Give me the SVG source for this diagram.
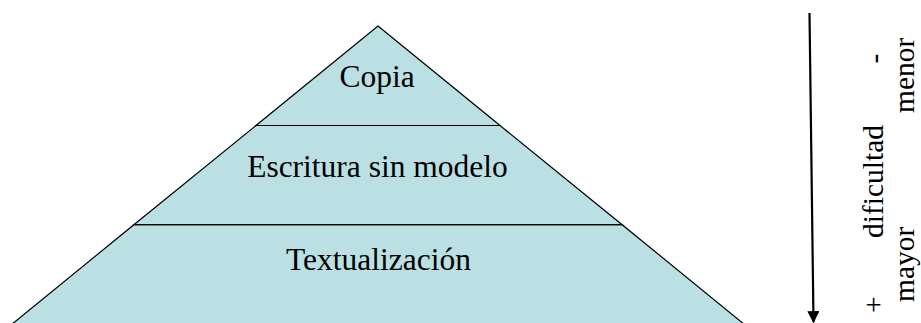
<svg xmlns="http://www.w3.org/2000/svg" width="921" height="323" viewBox="0 0 921 323">
  <style>
    .lvl { fill: #BBE0E3; stroke: #000000; stroke-width: 1.2; stroke-linejoin: miter; }
    .lbl { font-family: "Liberation Serif", "Times New Roman", serif; font-size: 31.5px; fill: #000000; text-anchor: middle; }
    .side { font-family: "Liberation Serif", "Times New Roman", serif; font-size: 29.5px; fill: #000000; }
    .arrow { stroke: #000000; stroke-width: 2.2; fill: none; }
  </style>
  <defs>
    <marker id="head" viewBox="0 0 10 10" refX="9" refY="5" markerWidth="5.5" markerHeight="5.5" markerUnits="strokeWidth" orient="auto">
      <path d="M0,0 L10,5 L0,10 Z" fill="#000000"/>
    </marker>
  </defs>
  <rect x="0" y="0" width="921" height="323" fill="#FFFFFF"/>

  <g id="nivel-textualizacion">
    <polygon class="lvl" points="133.9,224.7 622.1,224.7 753.6,332 2.4,332"/>
    <text class="lbl" x="378.5" y="270">Textualización</text>
  </g>
  <g id="nivel-escritura">
    <polygon class="lvl" points="256,125.5 500,125.5 622.1,224.7 133.9,224.7"/>
    <text class="lbl" x="377.5" y="176.7">Escritura sin modelo</text>
  </g>
  <g id="nivel-copia">
    <polygon class="lvl" points="378,26 500,125.5 256,125.5"/>
    <text class="lbl" x="377" y="87">Copia</text>
  </g>

  <g id="connectors">
    <line class="arrow" x1="809.5" y1="13" x2="813.5" y2="322" marker-end="url(#head)"/>
  </g>

  <g id="escala-dificultad">
    <text class="side" transform="translate(883,313) rotate(-90)">+</text>
    <text class="side" transform="translate(883,238) rotate(-90)">dificultad</text>
    <text class="side" transform="translate(884,63.5) rotate(-90)">-</text>
    <text class="side" transform="translate(914,302) rotate(-90)">mayor</text>
    <text class="side" transform="translate(914,113) rotate(-90)">menor</text>
  </g>
</svg>
